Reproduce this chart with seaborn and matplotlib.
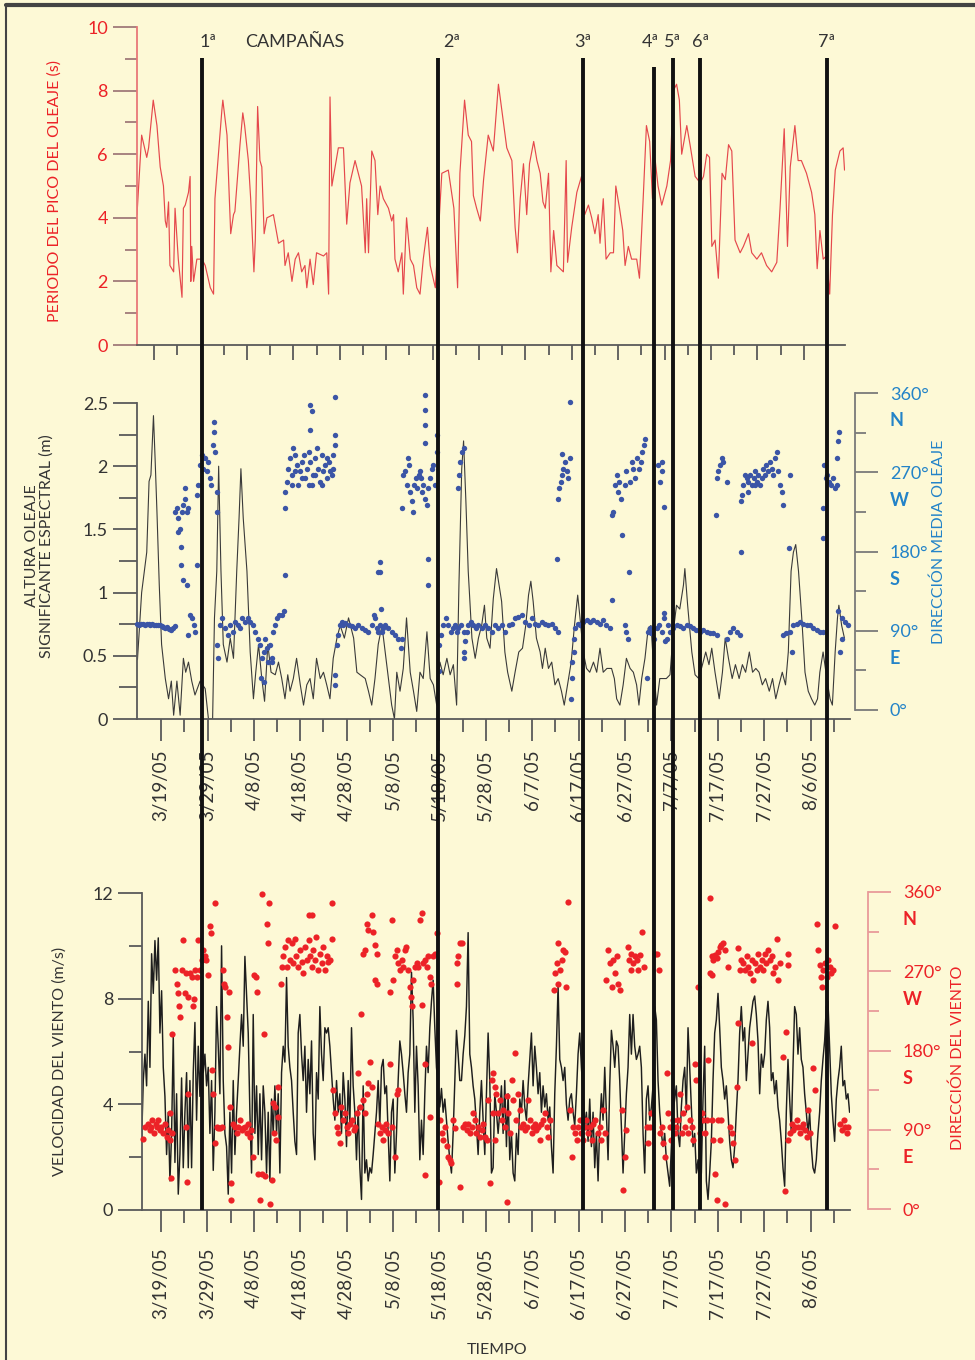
import numpy as np
import pandas as pd
import seaborn as sns
import matplotlib.pyplot as plt
import matplotlib.dates as mdates
from matplotlib.ticker import FixedLocator, FuncFormatter, MultipleLocator
from matplotlib.lines import Line2D

# ---------------- data (days counted from 3/19/05) ----------------
BASE = pd.Timestamp("2005-03-19")

# wave peak period (s)
tp_day = [-5.2, -4.2, -3.1, -2.7, -1.7, -0.9, -0.2, 0.5, 0.9, 1.2, 1.6, 1.9, 2.7, 3.0, 3.7,
          4.5, 4.8, 5.2, 5.9, 6.25, 6.4, 6.6, 7.0, 7.7, 8.8, 9.5, 10.6, 11.3, 11.6, 12.4,
          13.1, 13.3, 14.2, 14.7, 15.0, 15.6, 15.9, 17.0, 17.6, 18.0, 18.8, 19.3, 20.0, 20.3,
          20.8, 21.3, 21.7, 22.2, 22.8, 24.2, 25.3, 26.4, 26.7, 27.4, 28.2, 28.9, 29.6, 30.3,
          31.0, 31.4, 32.1, 32.8, 33.5, 35.0, 35.7, 36.1, 36.4, 36.8, 38.2, 39.3, 40.0, 40.7,
          41.8, 42.5, 43.2, 44.0, 44.3, 44.7, 45.4, 46.1, 46.7, 47.2, 47.9, 49.0, 49.7, 50.1,
          50.4, 51.1, 51.9, 52.2, 52.9, 53.7, 54.4, 55.1, 55.8, 56.5, 57.4, 58.0, 59.1, 60.5,
          61.9, 63.1, 63.9, 64.4, 65.4, 66.2, 66.9, 67.3, 68.0, 68.8, 69.5, 70.5, 71.6, 72.7,
          74.5, 75.6, 76.3, 76.8, 77.4, 78.1, 78.8, 79.4, 80.3, 81.0, 81.7, 82.3, 82.8, 83.5,
          84.0, 84.6, 85.3, 86.7, 87.3, 87.6, 88.5, 89.6, 90.6, 91.3, 92.1, 92.8, 93.5, 94.2,
          94.6, 95.3, 95.9, 96.8, 97.5, 98.0, 98.8, 99.5, 100.0, 100.7, 101.4, 102.5, 103.1,
          103.9, 104.6, 105.3, 105.9, 106.5, 107.1, 107.9, 109.0, 109.8, 110.4, 111.1, 111.7,
          112.2, 113.3, 114.0, 115.1, 116.2, 116.9, 117.6, 118.2, 118.7, 119.4, 120.1, 120.9,
          121.6, 122.3, 123.0, 123.7, 124.8, 125.5, 126.6, 127.3, 128.4, 129.4, 130.5, 131.6,
          132.7, 133.4, 134.3, 135.0, 135.6, 136.6, 137.3, 138.0, 139.1, 140.2, 140.9, 141.4,
          142.0, 142.7, 143.4, 144.1, 144.7, 145.3, 146.3, 147.0, 147.3]
tp_val = [4.1, 6.6, 5.9, 6.2, 7.7, 6.9, 5.6, 5.0, 3.9, 3.7, 4.5, 2.5, 2.3, 4.3, 2.7,
          1.5, 4.3, 4.4, 4.8, 5.3, 2.0, 3.1, 2.0, 2.7, 2.7, 2.5, 1.8, 1.6, 4.6, 6.1,
          7.4, 7.7, 6.6, 4.6, 3.5, 4.1, 4.2, 6.3, 7.3, 6.9, 5.8, 4.6, 2.3, 3.3,
          7.5, 5.8, 5.6, 3.5, 4.0, 4.1, 3.2, 3.3, 2.5, 2.9, 2.0, 2.7, 2.9, 2.3,
          2.5, 1.8, 2.7, 1.9, 2.9, 2.8, 2.9, 1.6, 7.8, 5.0, 6.2, 6.2, 3.8, 5.1,
          5.8, 5.4, 5.0, 2.9, 4.6, 2.9, 6.1, 5.8, 4.1, 5.0, 4.6, 4.3, 3.9, 4.1,
          2.7, 2.3, 2.9, 1.6, 4.0, 2.7, 2.5, 1.8, 1.6, 2.7, 3.7, 2.5, 1.8, 5.4,
          5.5, 4.3, 1.8, 5.4, 7.7, 6.6, 6.4, 4.7, 4.3, 3.9, 5.2, 6.6, 6.1, 8.2,
          6.2, 5.8, 3.7, 2.9, 4.6, 5.7, 4.1, 5.7, 6.4, 5.8, 5.4, 4.5, 4.3, 5.4,
          2.3, 3.6, 2.5, 2.3, 5.8, 2.6, 3.7, 4.8, 5.3, 4.1, 4.4, 4.0, 3.5, 4.1,
          3.2, 4.6, 2.7, 2.9, 2.9, 5.0, 4.3, 3.6, 2.5, 3.1, 2.7, 2.7, 2.1,
          4.6, 6.9, 6.4, 4.6, 5.8, 5.0, 4.4, 5.0, 5.8, 8.0, 8.2, 7.7,
          6.0, 6.9, 6.3, 5.3, 5.1, 5.3, 6.0, 5.9, 3.1, 3.3, 2.1, 5.4,
          5.2, 6.3, 6.1, 3.3, 2.9, 3.1, 3.5, 2.9, 2.7, 2.9, 2.5, 2.3,
          2.6, 4.3, 6.8, 3.1, 5.6, 6.9, 5.8, 5.8, 5.4, 4.8, 4.1, 2.4,
          3.6, 2.7, 2.8, 1.6, 4.1, 5.5, 6.1, 6.2, 5.5]

# significant wave height (m)
hs_day = [-5.1, -4.9, -4.2, -3.1, -2.6, -2.2, -1.65, -1.3, -0.9, -0.4, 0.1, 0.9, 1.6, 2.2, 2.7,
          3.4, 4.1, 4.8, 5.3, 5.9, 6.6, 7.3, 8.4, 9.5, 10.2, 11.1, 11.5, 12.0, 12.4, 12.9,
          13.4, 14.2, 14.9, 15.6, 16.3, 16.8, 17.2, 17.7, 18.5, 19.2, 19.9, 20.4, 21.0, 21.7, 22.3,
          23.0, 23.7, 24.6, 25.3, 26.0, 26.7, 27.3, 27.8, 28.5, 29.2, 30.0, 30.7, 31.4, 32.1, 32.8,
          33.5, 34.3, 35.0, 35.7, 36.4, 37.1, 37.9, 38.6, 39.5, 40.4, 41.5, 42.2, 42.9, 44.0, 44.7,
          45.4, 46.1, 46.8, 47.6, 48.3, 49.0, 49.7, 50.3, 50.8, 51.5, 52.2, 52.9, 53.7, 54.4, 55.1,
          55.8, 56.5, 57.3, 58.0, 58.7, 59.4, 60.1, 60.8, 61.6, 62.3, 63.0, 63.7, 64.2, 64.8, 65.2,
          65.7, 66.2, 67.0, 67.7, 68.4, 69.1, 69.7, 70.2, 70.9, 71.6, 72.3,
          73.4, 74.1, 74.7, 75.6, 76.3, 77.1, 77.9, 78.6, 79.2, 79.7, 80.2, 80.9, 81.7, 82.2, 82.8,
          83.5, 84.2, 84.9, 85.6, 86.3, 86.9, 87.6, 88.4, 89.1, 89.8, 90.3, 91.0, 91.7, 92.4, 93.2,
          93.9, 94.6, 95.3, 96.1, 97.1, 97.7, 98.2, 98.9, 99.6, 100.3, 101.1, 101.8, 102.5, 103.0,
          103.6, 104.3, 105.0, 105.6, 106.1, 106.8, 107.5, 108.2, 108.9, 109.7, 110.4, 111.1,
          111.8, 112.6, 112.9, 113.5, 114.4, 115.1, 115.9, 116.7, 117.4, 118.1, 118.7, 119.4,
          120.3, 121.0, 121.6, 122.3, 123.1, 123.8, 124.6, 125.3, 126.0, 126.8, 127.5, 128.2,
          128.9, 129.6, 130.3, 131.1, 131.8, 132.5, 133.2, 133.9, 134.6, 135.2, 135.8, 136.3,
          136.8, 137.4, 138.1, 138.8, 139.5, 140.2, 140.9, 141.5, 142.0, 142.7, 143.5, 144.2,
          144.7, 145.3, 145.8, 146.1, 146.7, 147.3]
hs_val = [0.47, 0.59, 1.0, 1.32, 1.88, 1.93, 2.4, 2.06, 1.64, 1.06, 0.59, 0.32, 0.16, 0.30, 0.03,
          0.30, 0.03, 0.48, 0.37, 0.45, 0.30, 0.19, 0.30, 0.24, 0.0, 0.0, 0.80, 1.17, 2.0, 1.17,
          0.59, 0.45, 0.64, 0.48, 1.17, 1.59, 1.98, 1.59, 1.17, 0.53, 0.16, 0.37, 0.59, 0.32, 0.14,
          0.59, 0.37, 0.35, 0.45, 0.32, 0.16, 0.35, 0.22, 0.32, 0.48, 0.27, 0.11, 0.27, 0.32, 0.16,
          0.48, 0.32, 0.37, 0.27, 0.16, 0.48, 0.64, 0.74, 0.64, 0.80, 0.64, 0.37, 0.35, 0.32, 0.22,
          0.11, 0.32, 0.59, 0.74, 0.53, 0.32, 0.11, 0.0, 0.37, 0.22, 0.40, 0.80, 0.37, 0.22, 0.06,
          0.37, 0.32, 0.69, 0.32, 0.27, 0.11, 0.45, 0.35, 0.48, 0.35, 0.43, 0.11, 1.06, 1.98, 2.2,
          1.72, 1.17, 0.64, 0.48, 0.64, 0.74, 0.90, 0.64, 0.56, 0.95, 1.19,
          0.93, 0.53, 0.37, 0.22, 0.37, 0.53, 0.56, 0.74, 0.98, 1.09, 0.93, 0.64, 0.53, 0.40, 0.56,
          0.40, 0.45, 0.27, 0.32, 0.22, 0.11, 0.27, 0.45, 0.74, 0.98, 0.80, 0.53, 0.40, 0.37, 0.45,
          0.37, 0.56, 0.37, 0.40, 0.40, 0.32, 0.16, 0.11, 0.27, 0.48, 0.40, 0.37, 0.27, 0.11,
          0.32, 0.48, 0.72, 0.74, 0.45, 0.11, 0.32, 0.32, 0.32, 0.35, 0.69, 0.90,
          0.87, 1.06, 1.19, 0.90, 0.53, 0.35, 0.32, 0.43, 0.53, 0.43, 0.56, 0.37,
          0.16, 0.37, 0.64, 0.48, 0.32, 0.43, 0.32, 0.43, 0.37, 0.53, 0.37, 0.40,
          0.37, 0.27, 0.32, 0.22, 0.32, 0.16, 0.27, 0.37, 0.27, 0.53, 1.17, 1.32,
          1.38, 1.17, 0.80, 0.37, 0.22, 0.16, 0.11, 0.16, 0.37, 0.53, 0.32, 0.16,
          0.11, 0.53, 0.80, 0.90, 0.74, 0.64]

# mean wave direction (deg): (day, deg)
wave_dir = [(-5.1, 98), (-4.7, 97), (-4.3, 98), (-3.9, 98), (-3.5, 97), (-3.1, 98), (-2.7, 98),
            (-2.3, 97), (-1.9, 98), (-1.5, 97), (-1.1, 97), (-0.7, 96), (-0.3, 96), (0.1, 95),
            (0.5, 94), (0.9, 93), (1.3, 94), (1.7, 92), (2.1, 91), (2.5, 93), (2.9, 95),
            (3.0, 225), (3.4, 229), (3.7, 218), (4.1, 206), (4.5, 225), (4.8, 233), (5.2, 252),
            (5.2, 240), (5.5, 225), (5.9, 229), (4.3, 185), (4.3, 165), (4.8, 148), (5.5, 142),
            (3.7, 202), (5.9, 85), (6.3, 108), (6.6, 104), (7.0, 97), (7.3, 89), (7.7, 165),
            (7.7, 244), (8.0, 255), (8.4, 278), (8.8, 290), (9.1, 274), (9.5, 286), (9.8, 271),
            (10.2, 282), (10.6, 263), (10.8, 255), (11.1, 301), (11.3, 316), (11.4, 327),
            (11.6, 293), (12.0, 248), (12.0, 225),
            (12.0, 74), (12.2, 59), (12.7, 97), (13.2, 104), (13.8, 93), (14.4, 85), (14.9, 97),
            (15.4, 89), (15.9, 100), (16.5, 97), (17.0, 93), (17.5, 104), (18.1, 100), (18.7, 104),
            (19.2, 100), (19.7, 97), (20.3, 89), (20.8, 81), (21.3, 74), (21.7, 59), (22.1, 66),
            (22.4, 81), (22.8, 70), (23.1, 55), (23.5, 74), (23.9, 59), (24.2, 89), (24.6, 97),
            (24.9, 104), (25.4, 108), (26.0, 108), (26.4, 112), (21.6, 36), (22.1, 32), (23.9, 55),
            (26.6, 229), (26.6, 153),
            (26.7, 248), (27.1, 259), (27.4, 274), (27.8, 286), (28.2, 267), (28.5, 297), (28.9, 290),
            (29.2, 278), (29.6, 255), (30.0, 271), (30.3, 282), (30.7, 290), (31.0, 263), (31.4, 274),
            (31.8, 293), (32.1, 282), (32.5, 255), (32.8, 267), (33.2, 286), (33.5, 297), (33.9, 274),
            (34.3, 259), (34.6, 290), (35.0, 271), (35.3, 278), (35.7, 263), (36.1, 282), (36.4, 271),
            (36.8, 267), (37.1, 274), (28.2, 255), (28.9, 271), (30.3, 263), (31.8, 255), (33.2, 267),
            (34.6, 255), (35.7, 286), (37.1, 290), (37.4, 301), (37.5, 312), (32.1, 346), (32.5, 339),
            (32.1, 318), (37.4, 356),
            (37.5, 40), (37.5, 28), (37.9, 74), (38.2, 85), (38.6, 97), (38.9, 100), (39.3, 97),
            (39.7, 99), (40.4, 97), (41.1, 95), (41.8, 93), (42.5, 97), (43.2, 93), (44.0, 91),
            (44.7, 89), (45.4, 97), (45.8, 108), (46.1, 104), (46.5, 93), (46.8, 89), (47.2, 97),
            (47.6, 89), (47.9, 93), (48.3, 97), (49.0, 93), (49.7, 89), (50.4, 85), (51.1, 81),
            (51.7, 70), (51.9, 81), (47.2, 168), (47.2, 157), (47.4, 115), (46.8, 157),
            (51.9, 229), (52.2, 267), (52.6, 271), (52.9, 255), (53.2, 286), (53.4, 278), (53.7, 248),
            (54.0, 237), (54.4, 225), (54.6, 255), (54.9, 263), (55.1, 252), (55.5, 267), (55.8, 271),
            (56.0, 263), (56.3, 248), (56.5, 255), (56.9, 240), (57.3, 233), (57.6, 252), (58.0, 263),
            (58.3, 274), (58.7, 278), (59.1, 255), (56.9, 303), (56.8, 324), (56.8, 341), (56.9, 358),
            (57.5, 172), (57.6, 142), (59.4, 312), (59.4, 293),
            (59.8, 44), (59.9, 74), (60.3, 85), (60.8, 97), (61.4, 104), (61.9, 97), (62.5, 89),
            (63.0, 93), (63.4, 97), (63.7, 89), (64.1, 93), (64.7, 97), (65.2, 89), (65.5, 78),
            (65.9, 89), (66.2, 97), (66.8, 100), (67.3, 97), (67.8, 93), (68.4, 97), (69.1, 93),
            (69.8, 97), (70.5, 93), (71.3, 89), (72.0, 97), (72.7, 93), (65.2, 59), (65.2, 66),
            (63.9, 252), (64.2, 267), (64.4, 282), (64.8, 293), (65.2, 297),
            (73.4, 97), (74.1, 89), (74.9, 97), (75.6, 98), (76.3, 104), (77.0, 106), (77.7, 108),
            (78.4, 100), (79.2, 97), (79.9, 104), (80.6, 98), (81.3, 97), (82.0, 100), (82.8, 98),
            (83.5, 97), (84.2, 98), (84.9, 93), (85.5, 89), (85.3, 172),
            (85.5, 240), (85.8, 252), (86.1, 259), (86.4, 267), (86.7, 274), (87.1, 282), (87.4, 271),
            (87.8, 263), (88.1, 286), (86.4, 291), (88.1, 350),
            (88.3, 13), (88.5, 36), (88.6, 55), (88.9, 66), (89.1, 81), (89.3, 93), (89.8, 98),
            (90.3, 97), (91.0, 100), (91.7, 102), (92.4, 100), (93.2, 102), (93.9, 100), (94.6, 98),
            (95.3, 102), (96.0, 97), (96.7, 93), (97.1, 125), (100.0, 97), (100.3, 89), (100.7, 81),
            (104.7, 36),
            (97.3, 221), (97.5, 225), (97.8, 255), (98.2, 267), (98.4, 248), (98.7, 259), (99.1, 240),
            (99.4, 199), (99.9, 255), (100.3, 271), (100.9, 157), (101.1, 259), (101.4, 282),
            (101.8, 274), (102.2, 263), (102.5, 286), (103.0, 274), (103.4, 282), (103.7, 293),
            (104.1, 301), (104.3, 308),
            (105.0, 89), (105.4, 93), (105.7, 87), (106.3, 81), (106.8, 93), (107.3, 97), (107.9, 89),
            (108.3, 104), (108.6, 78), (109.0, 81), (109.3, 97), (109.7, 89), (110.4, 93), (111.1, 97),
            (111.8, 95), (112.6, 93), (113.3, 97), (114.0, 95), (114.7, 93), (115.4, 91), (116.2, 89),
            (116.9, 91), (117.6, 89), (118.3, 87), (119.0, 87), (119.8, 85), (108.3, 110),
            (107.9, 271), (107.5, 259), (107.1, 278), (107.9, 282), (108.3, 231),
            (119.6, 221), (119.8, 263), (120.1, 271), (120.5, 278), (120.8, 286), (121.2, 282),
            (121.9, 259), (121.9, 81), (122.6, 89), (123.3, 93), (124.1, 89), (124.8, 85), (125.0, 180),
            (125.1, 237), (125.3, 244), (125.5, 255), (125.9, 267), (126.2, 263), (126.6, 259),
            (126.9, 267), (127.3, 255), (127.7, 263), (128.0, 271), (128.4, 259), (128.7, 267),
            (129.1, 255), (129.5, 263), (129.8, 274), (130.2, 267), (130.5, 278), (130.9, 271),
            (131.2, 282), (131.6, 274), (132.0, 267), (132.3, 286), (132.7, 293), (133.0, 271),
            (133.4, 255), (133.8, 248), (134.1, 233), (135.6, 267), (126.6, 248), (128.0, 255),
            (134.1, 85), (134.8, 87), (135.6, 89), (136.3, 97), (137.0, 98), (137.7, 100), (138.4, 98),
            (139.2, 97), (139.9, 97), (140.6, 93), (141.3, 91), (142.0, 89), (142.7, 89), (135.9, 66),
            (135.3, 184),
            (142.7, 195), (142.7, 229), (142.9, 278), (143.4, 263), (143.5, 267), (143.9, 259),
            (144.5, 255), (144.8, 263), (145.2, 252), (145.6, 255), (145.8, 286), (146.0, 305),
            (146.1, 316), (146.0, 112), (146.7, 104), (147.4, 100), (148.1, 97), (146.3, 66),
            (146.7, 81)]

# wind speed (m/s), regular samples every ~8.6 h starting 4.17 days before 3/19
wind_start = -4.17
wind_val = [2.6, 4.9, 5.9, 4.7, 7.9, 5.4, 9.7, 8.2, 10.2, 8.7,
            10.3, 6.7, 8.3, 5.4, 4.3, 2.1, 3.7, 1.1, 2.9, 6.6,
            1.8, 4.4, 0.6, 2.1, 5.0, 1.6, 3.7, 5.2, 1.6, 4.9,
            1.6, 5.2, 7.1, 3.4, 6.2, 4.3, 6.4, 5.2, 5.9, 4.7,
            5.4, 2.9, 4.9, 1.5, 3.7, 7.7, 6.2, 4.4, 10.0, 4.9,
            2.9, 2.4, 0.6, 3.7, 1.4, 4.9, 2.1, 3.7, 4.9, 6.2,
            7.4, 6.2, 9.6, 8.1, 6.7, 3.7, 1.4, 7.4, 2.9, 4.7,
            2.1, 4.4, 1.9, 4.7, 3.7, 1.4, 3.7, 1.1, 4.2, 2.9,
            4.7, 2.9, 4.4, 1.4, 5.2, 6.2, 5.6, 8.8, 6.2, 5.4,
            4.9, 3.7, 2.6, 2.1, 6.7, 7.4, 5.9, 4.9, 6.2, 3.7,
            5.7, 4.4, 6.4, 2.9, 1.9, 5.2, 4.2, 7.7, 5.9, 4.9,
            6.9, 6.7, 6.9, 6.2, 5.2, 4.2, 3.4, 4.9, 3.7, 4.4,
            2.9, 5.2, 4.2, 2.4, 4.9, 3.2, 6.9, 4.7, 3.7, 1.9,
            3.9, 1.6, 0.4, 4.7, 1.4, 1.9, 1.1, 1.6, 1.4, 2.1,
            2.9, 3.7, 4.9, 3.2, 5.4, 5.7, 4.4, 4.7, 2.9, 1.1,
            3.7, 4.2, 1.4, 2.9, 4.9, 6.4, 5.9, 5.2, 4.4, 3.7,
            5.2, 5.9, 9.0, 7.2, 3.7, 6.2, 4.7, 1.9, 3.4, 2.1,
            4.4, 6.2, 5.2, 6.9, 7.9, 8.7, 6.9, 5.4, 4.7, 3.9,
            4.6, 3.7, 4.2, 3.4, 2.6, 1.9, 1.4, 2.9, 4.9, 6.8,
            5.9, 4.9, 4.9, 5.9, 6.6, 7.7, 10.5, 5.9, 5.4, 4.7,
            4.2, 3.2, 2.1, 3.7, 4.9, 3.4, 2.1, 4.4, 6.7, 4.9,
            1.4, 1.6, 4.4, 3.7, 2.9,
            3.7, 4.7, 2.9, 4.9, 2.4, 4.4, 1.9, 2.9, 1.4, 1.1,
            2.9, 2.1, 4.2, 3.7, 4.9, 3.9, 3.4, 4.7, 5.7, 6.7,
            4.7, 6.2, 5.4, 4.4, 5.2, 3.7, 4.7, 3.9, 4.4, 3.4,
            3.9, 2.4, 1.4, 4.4, 6.2, 8.5, 5.7, 5.4, 4.9, 5.4,
            4.0, 3.4, 4.2, 4.4, 3.7, 3.2, 4.4, 5.9, 6.7, 5.4,
            4.4, 3.2, 3.7, 2.6, 4.2, 2.4, 3.7, 1.6, 2.9, 1.1,
            3.2, 4.4, 3.4, 5.4, 3.7, 1.9, 4.7, 6.8, 6.2, 5.4,
            6.4, 6.2, 4.9, 3.2, 1.4, 2.9, 4.4, 5.4, 7.4, 5.9,
            7.4, 6.2, 5.7, 5.9, 6.2, 5.4, 2.9, 1.4, 4.2, 4.7,
            3.4, 3.9, 4.7, 7.7, 7.2, 4.9, 3.7, 2.9, 2.4, 2.9,
            1.9, 1.4, 0.9, 2.4, 3.7, 4.2, 4.7, 2.9, 2.4, 3.9,
            4.9, 5.4, 3.7, 6.9, 5.4, 3.9, 2.4, 2.9, 1.4, 1.9,
            0.6, 1.4, 4.2, 6.2, 1.1, 0.4, 1.4, 2.6, 4.9, 6.7,
            7.2, 8.2, 6.9, 5.4, 4.9, 4.2, 4.7, 3.7, 2.6, 1.9,
            1.6, 2.4, 3.7, 4.9, 6.7, 7.7, 6.4, 6.9, 4.9, 5.9,
            6.9, 7.4, 7.9, 8.1, 7.4, 6.4, 4.4, 5.9, 5.4, 5.9,
            7.2, 7.9, 6.9, 4.9, 5.2, 4.4, 4.9, 3.9, 3.4, 2.6,
            1.6, 0.9, 3.7, 5.7, 4.2, 2.9, 5.4, 7.7, 7.4, 5.9,
            6.9, 5.7, 5.4, 4.4, 3.7, 2.9, 3.7, 2.4, 1.6, 1.4,
            1.9, 2.9, 3.7, 4.9, 5.7, 6.4, 7.7, 7.9, 6.2, 4.4,
            3.4, 2.6, 4.2, 4.9, 5.4, 6.2, 4.7, 4.9, 4.2, 4.4,
            3.7]

# wind direction (deg): (day, deg)
wind_dir = [(-3.9, 80), (-3.4, 93), (-2.9, 97), (-2.4, 90), (-1.9, 101), (-1.4, 86), (-0.9, 93),
            (-0.6, 101), (-0.2, 90), (0.1, 93), (0.5, 86), (0.9, 97), (1.2, 82), (1.6, 90),
            (1.9, 78), (2.3, 86), (-1.1, 97), (-2.2, 93),
            (1.9, 109), (2.2, 35), (2.4, 199), (3.0, 271), (3.4, 256), (3.6, 245), (3.9, 230),
            (4.1, 218), (4.5, 271), (4.8, 305), (5.2, 245), (5.5, 268), (5.9, 241), (6.3, 268),
            (6.6, 264), (7.0, 230), (7.2, 239), (7.3, 271), (7.7, 264), (7.9, 305), (5.9, 131),
            (5.5, 93), (5.7, 31),
            (8.4, 271), (8.8, 283), (9.1, 294), (9.5, 287), (9.8, 283), (10.2, 266), (10.6, 321),
            (10.8, 313), (11.6, 347), (10.9, 158), (11.3, 131), (11.6, 75), (12.0, 93), (12.4, 92),
            (12.7, 92), (13.1, 93), (13.4, 271), (13.6, 256), (13.9, 252), (14.2, 218), (14.4, 184),
            (14.7, 247), (14.9, 116), (15.2, 29), (15.1, 10),
            (15.6, 97), (15.9, 93), (16.3, 86), (16.7, 93), (17.0, 101), (17.4, 90), (17.7, 92),
            (18.1, 93), (18.5, 86), (18.8, 97), (19.2, 82), (19.5, 90),
            (19.9, 59), (20.1, 266), (20.4, 264), (20.6, 247), (21.0, 40), (21.3, 10), (21.7, 40),
            (22.1, 199), (22.4, 37), (22.8, 324), (21.7, 358), (23.1, 302), (23.3, 347), (23.5, 6),
            (23.9, 33), (24.2, 120), (24.4, 86), (24.6, 116), (24.9, 78), (25.3, 139), (25.3, 105),
            (25.9, 256), (26.0, 275), (26.4, 287), (26.7, 298), (27.1, 275), (27.4, 305), (27.8, 283),
            (28.2, 302), (28.5, 279), (28.9, 307), (29.2, 287), (29.6, 275), (30.0, 294), (30.3, 281),
            (30.7, 268), (31.0, 298), (31.4, 283), (31.8, 305), (32.1, 287), (32.5, 275), (32.8, 294),
            (33.2, 283), (33.5, 309), (33.9, 271), (34.3, 290), (34.6, 279), (35.0, 298), (35.3, 271),
            (35.7, 287), (36.1, 281), (36.4, 283), (31.8, 334), (32.5, 334), (36.8, 347), (36.8, 307),
            (37.1, 135), (37.5, 109), (37.9, 93), (38.2, 86), (38.6, 75), (38.9, 116), (39.3, 101),
            (39.7, 109), (40.0, 93), (40.4, 86), (40.7, 97), (41.1, 101), (41.5, 90), (41.8, 93),
            (42.2, 109), (42.5, 154), (42.9, 116), (43.2, 222), (43.6, 124), (44.0, 109), (44.3, 131),
            (44.7, 143), (45.0, 167), (45.4, 139),
            (43.6, 290), (44.0, 294), (44.3, 324), (44.7, 317), (45.5, 334), (45.8, 315), (46.1, 300),
            (46.5, 290), (46.1, 260), (46.5, 256),
            (46.8, 97), (47.2, 86), (47.6, 93), (47.9, 78), (48.3, 90), (48.6, 97), (49.0, 86),
            (49.4, 165), (49.7, 93), (50.4, 59), (50.8, 131), (51.1, 135),
            (49.4, 247), (49.7, 328), (50.1, 260), (50.4, 287), (50.8, 294), (51.1, 279), (51.5, 271),
            (51.9, 283), (52.2, 275), (52.6, 294), (52.9, 298), (53.3, 271), (53.7, 252), (53.9, 241),
            (54.0, 230), (54.4, 260), (54.7, 275), (55.1, 279), (55.5, 275), (55.8, 328), (56.2, 336),
            (56.2, 232), (56.5, 279), (56.9, 283), (57.3, 275), (57.6, 287), (58.0, 264), (58.3, 256),
            (58.7, 287), (59.1, 290), (59.4, 313), (56.9, 165), (56.9, 39), (58.0, 105),
            (59.9, 31), (60.1, 101), (60.5, 86), (60.8, 78), (61.2, 93), (61.6, 71), (61.9, 59),
            (62.3, 56), (62.6, 52), (63.0, 101), (63.4, 92), (65.2, 93), (65.5, 97), (65.9, 90),
            (66.2, 97), (66.6, 86), (67.0, 93), (67.3, 109), (67.7, 101), (68.0, 86), (68.4, 93),
            (68.8, 82), (69.1, 90), (69.5, 97), (69.8, 82), (70.2, 78), (70.5, 124), (70.9, 29),
            (71.3, 146), (71.6, 154), (72.0, 139), (72.3, 131), (72.7, 109), (64.4, 25), (72.0, 78),
            (71.6, 109), (63.7, 256), (63.9, 279), (64.1, 287), (64.4, 302), (64.8, 302),
            (73.1, 124), (73.4, 101), (73.8, 112), (74.1, 93), (74.5, 128), (74.9, 109), (75.2, 86),
            (75.6, 146), (75.9, 124), (76.3, 177), (76.6, 101), (77.0, 131), (77.4, 112), (77.7, 93),
            (78.1, 97), (78.4, 90), (78.8, 93), (79.2, 124), (79.5, 101), (79.9, 86), (80.2, 93),
            (80.6, 97), (80.9, 90), (81.3, 93), (81.7, 78), (82.0, 97), (82.4, 101), (82.8, 109),
            (83.1, 93), (83.5, 82), (83.8, 101), (74.5, 8),
            (84.6, 249), (84.9, 268), (85.3, 279), (85.6, 302), (86.0, 271), (86.4, 283), (86.7, 294),
            (87.1, 292), (87.4, 252), (87.8, 349), (85.6, 256),
            (88.1, 112), (88.5, 59), (88.8, 93), (89.2, 86), (89.6, 78), (89.9, 93), (90.3, 101),
            (90.6, 86), (91.0, 78), (91.4, 93), (91.7, 101), (92.1, 86), (92.4, 93), (92.8, 78),
            (93.2, 97), (93.5, 101), (94.2, 86), (94.6, 93), (94.9, 78), (95.3, 112), (95.7, 86),
            (96.0, 260), (96.4, 294), (96.7, 279), (97.1, 252), (97.5, 283), (97.8, 268), (98.2, 287),
            (98.5, 256), (98.9, 249), (99.3, 112), (99.6, 22), (100.0, 59), (100.3, 90), (100.6, 298),
            (100.9, 283), (101.2, 271), (101.4, 290), (101.8, 279), (102.2, 287), (102.5, 283),
            (102.9, 271), (103.2, 288), (103.6, 315), (104.0, 275),
            (104.7, 93), (105.0, 75), (105.4, 93), (105.7, 109), (106.5, 290), (107.0, 290),
            (107.3, 271), (107.5, 86), (107.9, 93), (108.3, 75), (108.6, 59), (109.0, 154),
            (109.3, 109), (109.7, 93), (110.0, 78), (110.4, 101), (110.8, 86), (111.1, 93),
            (111.5, 101), (111.8, 131), (112.2, 86), (112.6, 109), (112.9, 93), (113.3, 116),
            (113.6, 86), (114.0, 101), (114.4, 93), (114.7, 78), (115.1, 165), (115.4, 146),
            (115.8, 252), (116.2, 86), (116.5, 109), (116.9, 101), (117.2, 86), (117.6, 101),
            (118.0, 169), (118.3, 353), (118.3, 268), (118.7, 101), (119.0, 78), (119.4, 40),
            (119.8, 10), (120.1, 101), (120.5, 78), (120.8, 101), (121.6, 6),
            (118.7, 287), (119.0, 283), (119.4, 288), (119.8, 285), (120.1, 292), (120.5, 298),
            (120.8, 300), (121.2, 302), (121.6, 294), (122.3, 275), (118.7, 266),
            (122.6, 93), (123.0, 86), (123.3, 75), (123.7, 56), (124.1, 139), (124.3, 211),
            (124.4, 296), (124.8, 271),
            (125.1, 283), (125.5, 279), (125.9, 271), (126.2, 287), (126.6, 275), (126.9, 268),
            (127.3, 283), (127.6, 260), (128.0, 279), (128.4, 271), (128.7, 290), (129.1, 275),
            (129.5, 283), (129.8, 271), (130.2, 290), (130.5, 279), (130.9, 294), (131.2, 283),
            (131.6, 287), (132.0, 268), (132.3, 275), (132.7, 307), (133.0, 260), (133.4, 279),
            (135.2, 290), (135.2, 277), (127.3, 188),
            (134.1, 173), (134.5, 20), (134.6, 201), (135.2, 78), (135.6, 86), (135.9, 97),
            (136.3, 90), (136.6, 93), (137.0, 101), (137.3, 93), (137.7, 86), (138.1, 93),
            (138.4, 97), (138.8, 90), (139.2, 82), (139.5, 112), (139.9, 86), (140.6, 160),
            (140.9, 135),
            (141.3, 324), (141.6, 294), (142.0, 277), (142.2, 264), (142.5, 252), (142.7, 271),
            (143.1, 279), (143.5, 264), (143.8, 283), (144.2, 275), (144.5, 268), (144.9, 271),
            (145.3, 321),
            (146.3, 97), (146.7, 90), (147.1, 101), (147.4, 93), (147.8, 86), (148.1, 93)]

# field campaigns
camp_day = [8.9, 59.6, 90.9, 106.3, 110.3, 116.2, 143.5]
camp_lbl = ["1ª", "2ª", "3ª", "4ª", "5ª", "6ª", "7ª"]

# ---------------- style ----------------
BG = "#fdf9d6"
RED_LINE = "#e5484c"
RED_TXT = "#ec2227"
BLUE_DOT = "#3b55a6"
BLUE_TXT = "#2383c8"
DARK = "#333333"
AX = "#5a5a5a"

sns.set_theme(style="ticks")
plt.rcParams["font.family"] = ["Lato", "DejaVu Sans"]
plt.rcParams["axes.linewidth"] = 1.3


def to_dates(days):
    return BASE + pd.to_timedelta(np.asarray(days, dtype=float), unit="D")


def dnum(d):
    return mdates.date2num(BASE + pd.Timedelta(days=d))


W, H = 975, 1360
fig = plt.figure(figsize=(W / 100, H / 100), dpi=100, facecolor=BG)


def rect(x0, y_top, x1, y_bot):
    return [x0 / W, 1 - y_bot / H, (x1 - x0) / W, (y_bot - y_top) / H]


major = pd.date_range("2005-03-19", "2005-08-06", freq="10D")
minor = major + pd.Timedelta(days=5)
date_fmt = FuncFormatter(lambda x, p: "{0.month}/{0.day}/{0:%y}".format(mdates.num2date(x)))


def style_main(ax, color_ticks=AX):
    for s in ["top", "right"]:
        ax.spines[s].set_visible(False)
    ax.spines["left"].set_color(AX)
    ax.spines["bottom"].set_color(AX)
    ax.set_facecolor("none")
    ax.set_xlabel("")
    ax.set_ylabel("")
    ax.tick_params(axis="y", which="major", length=17, width=1.3, color=color_ticks,
                   labelsize=13, pad=4)
    ax.tick_params(axis="y", which="minor", length=9, width=1.3, color=color_ticks)


# ---- top panel: wave peak period ----
ax1 = fig.add_axes(rect(137, 27, 845, 345))
sns.lineplot(x=to_dates(tp_day), y=tp_val, ax=ax1, color=RED_LINE, lw=0.85,
             estimator=None, sort=False)
ax1.set_xlim(dnum(-5.2), dnum(147.4))
ax1.set_ylim(0, 10)
style_main(ax1, color_ticks="#a07a7a")
ax1.spines["left"].set_color("#e87878")
ax1.yaxis.set_major_locator(MultipleLocator(2))
ax1.yaxis.set_minor_locator(MultipleLocator(1))
ax1.tick_params(axis="y", labelcolor=RED_TXT)
ax1.xaxis.set_major_locator(FixedLocator(mdates.date2num(major - pd.Timedelta(days=1.5))))
ax1.xaxis.set_minor_locator(FixedLocator(mdates.date2num(minor - pd.Timedelta(days=1.5))))
ax1.tick_params(axis="x", which="major", length=11, width=1.3, color=AX, labelbottom=False)
ax1.tick_params(axis="x", which="minor", length=7, width=1.3, color=AX)
fig.text(55 / W, 1 - 191 / H, "PERIODO DEL PICO DEL OLEAJE (s)", rotation=90,
         ha="center", va="center", fontsize=11.5, color=RED_TXT)

# ---- middle panel: wave height + direction ----
ax2 = fig.add_axes(rect(137, 403, 850, 719))
sns.lineplot(x=to_dates(hs_day), y=hs_val, ax=ax2, color="#3a3a3a", lw=0.8,
             estimator=None, sort=False)
ax2.set_xlim(dnum(-5.2), dnum(148.5))
ax2.set_ylim(0, 2.5)
style_main(ax2)
ax2.yaxis.set_major_locator(FixedLocator([0, 0.5, 1, 1.5, 2, 2.5]))
ax2.yaxis.set_major_formatter(FuncFormatter(lambda v, p: f"{v:g}"))
ax2.yaxis.set_minor_locator(MultipleLocator(0.25))
ax2.tick_params(axis="y", which="minor", length=13)
ax2.tick_params(axis="y", labelcolor=DARK)
ax2.xaxis.set_major_locator(FixedLocator(mdates.date2num(major)))
ax2.xaxis.set_minor_locator(FixedLocator(mdates.date2num(minor)))
ax2.xaxis.set_major_formatter(date_fmt)
ax2.tick_params(axis="x", which="major", length=16, width=1.3, color=AX,
                labelsize=13.5, labelrotation=90, pad=6, labelcolor=DARK)
ax2.tick_params(axis="x", which="minor", length=9, width=1.3, color=AX)
fig.text(39 / W, 1 - 546 / H, "ALTURA OLEAJE\nSIGNIFICANTE ESPECTRAL (m)", rotation=90,
         ha="center", va="center", multialignment="center", fontsize=11.5, color=DARK,
         linespacing=1.05)

ax2b = fig.add_axes(rect(137, 393, 850, 710))
wd_day, wd_deg = zip(*wave_dir)
sns.scatterplot(x=to_dates(wd_day), y=list(wd_deg), ax=ax2b, color=BLUE_DOT, s=15,
                linewidth=0, clip_on=False)
ax2b.set_xlim(dnum(-5.2), dnum(148.5))
ax2b.set_ylim(0, 360)

# ---- bottom panel: wind speed + direction ----
ax3 = fig.add_axes(rect(142.4, 893, 850, 1210))
wind_t = pd.date_range(BASE + pd.Timedelta(days=wind_start), periods=len(wind_val), freq="517min")
sns.lineplot(x=wind_t, y=wind_val, ax=ax3, color="#1e1e1e", lw=1.05, estimator=None, sort=False)
ax3.set_xlim(dnum(-4.0), dnum(148.5))
ax3.set_ylim(0, 12)
style_main(ax3)
ax3.yaxis.set_major_locator(MultipleLocator(4))
ax3.yaxis.set_minor_locator(MultipleLocator(2))
ax3.tick_params(axis="y", which="minor", length=9.5)
ax3.tick_params(axis="y", labelcolor=DARK)
ax3.xaxis.set_major_locator(FixedLocator(mdates.date2num(major)))
ax3.xaxis.set_minor_locator(FixedLocator(mdates.date2num(minor)))
ax3.xaxis.set_major_formatter(date_fmt)
ax3.tick_params(axis="x", which="major", length=16, width=1.3, color=AX,
                labelsize=13.5, labelrotation=90, pad=11, labelcolor=DARK)
ax3.tick_params(axis="x", which="minor", length=9, width=1.3, color=AX)
fig.text(60 / W, 1 - 1061 / H, "VELOCIDAD DEL VIENTO (m/s)", rotation=90,
         ha="center", va="center", fontsize=11.5, color=DARK)

ax3b = fig.add_axes(rect(142.4, 892, 850, 1209))
wn_day, wn_deg = zip(*wind_dir)
sns.scatterplot(x=to_dates(wn_day), y=list(wn_deg), ax=ax3b, color=RED_TXT, s=20,
                linewidth=0, clip_on=False)
ax3b.set_xlim(dnum(-4.0), dnum(148.5))
ax3b.set_ylim(0, 360)


def style_dir(ax, color, spine_color, outward, label, lx, ly):
    ax.set_facecolor("none")
    for s in ["top", "left", "bottom"]:
        ax.spines[s].set_visible(False)
    ax.spines["right"].set_color(spine_color)
    ax.spines["right"].set_position(("outward", outward))
    ax.xaxis.set_visible(False)
    ax.yaxis.tick_right()
    ax.set_xlabel("")
    ax.set_ylabel("")
    ax.yaxis.set_major_locator(FixedLocator([0, 90, 180, 270, 360]))
    ax.yaxis.set_major_formatter(FuncFormatter(lambda v, p: f"{v:.0f}°"))
    ax.yaxis.set_minor_locator(FixedLocator([45, 135, 225, 315]))
    ax.tick_params(axis="y", which="major", length=16.5, width=1.3, color=spine_color,
                   labelsize=13, labelcolor=color, pad=8.5)
    ax.tick_params(axis="y", which="minor", length=8, width=1.3, color=spine_color)
    for deg, letter in [(360, "N"), (270, "W"), (180, "S"), (90, "E")]:
        ax.annotate(letter, xy=(1, deg), xycoords=("axes fraction", "data"),
                    xytext=(outward + 16.5 + 8.5, -20), textcoords="offset points",
                    ha="left", va="center", fontsize=13, fontweight="bold", color=color)
    fig.text(lx / W, 1 - ly / H, label, rotation=90, ha="center", va="center",
             fontsize=11.5, color=color)


style_dir(ax2b, BLUE_TXT, "#7a7a7a", 3.6, "DIRECCIÓN MEDIA OLEAJE", 939, 542)
style_dir(ax3b, RED_TXT, "#e89a9a", 13, "DIRECCIÓN DEL VIENTO", 958, 1058)

# ---- campaign lines across all panels ----
axc = fig.add_axes(rect(137, 58, 850, 1210))
axc.set_xlim(dnum(-5.2), dnum(148.5))
axc.set_ylim(0, 1)
axc.axis("off")
label_dx = [4, 10, 0, -3, 0, 0, 0]
line_top = [1, 1, 1, 0.992, 1, 1, 1]
for d, lbl, dx, top in zip(camp_day, camp_lbl, label_dx, line_top):
    axc.axvline(dnum(d), ymin=0, ymax=top, color="#111111", lw=2.8, solid_capstyle="butt")
    axc.annotate(lbl, xy=(dnum(d), 1), xycoords=("data", "axes fraction"),
                 xytext=(dx, 11.5), textcoords="offset points", ha="center", va="center",
                 fontsize=13, color=DARK)
fig.text(295 / W, 1 - 42 / H, "CAMPAÑAS", ha="center", va="center", fontsize=13, color=DARK)

fig.text(497 / W, 1 - 1350 / H, "TIEMPO", ha="center", va="center", fontsize=11.5, color=DARK)

# page frame
fig.add_artist(Line2D([6 / W, 1], [1 - 5 / H, 1 - 5 / H], transform=fig.transFigure,
                      color="#444444", lw=3))
fig.add_artist(Line2D([6 / W, 6 / W], [0, 1 - 5 / H], transform=fig.transFigure,
                      color="#444444", lw=1.5))

fig.savefig("out.png", dpi=100, facecolor=BG)
